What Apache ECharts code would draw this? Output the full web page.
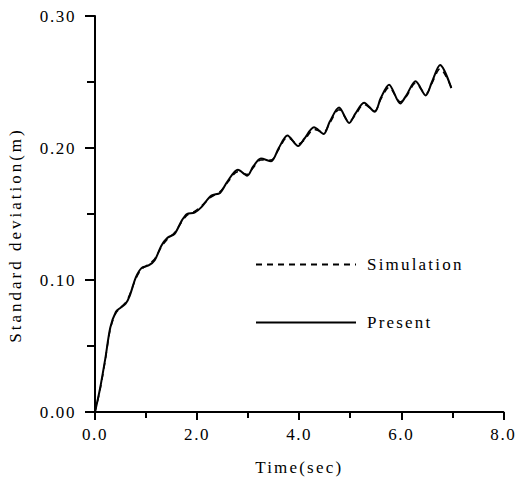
<!DOCTYPE html>
<html>
<head>
<meta charset="utf-8">
<script src="https://cdn.jsdelivr.net/npm/echarts@6/dist/echarts.min.js"></script>
<style>
  html, body { margin: 0; padding: 0; background: #fff; }
  #main { width: 517px; height: 481px; }
  /* the scanned figure has wide letter spacing */
  #main text { letter-spacing: 1.6px; }
  #main text.wide { letter-spacing: 2.2px; }
  #main text.ytitle { letter-spacing: 3px; }
</style>
</head>
<body>
<div id="main"></div>
<script>
    // time (sec) sampled along the curves
    var time = [0, 0.1, 0.2, 0.3, 0.41, 0.5, 0.6, 0.68, 0.8, 0.91, 1.05, 1.17, 1.3, 1.42, 1.56, 1.7, 1.8, 1.95,
        2.08, 2.28, 2.45, 2.6, 2.8, 2.98, 3.1, 3.25, 3.45, 3.6, 3.77, 3.98, 4.1, 4.29, 4.48, 4.6, 4.78, 4.98,
        5.1, 5.27, 5.48, 5.6, 5.76, 5.98, 6.1, 6.28, 6.48, 6.6, 6.76, 6.98];

    // standard deviation (m)
    var present = [0, 0.018, 0.040, 0.064, 0.076, 0.079, 0.082, 0.088, 0.102, 0.109, 0.111, 0.115, 0.126, 0.132,
        0.135, 0.145, 0.150, 0.151, 0.155, 0.164, 0.166, 0.175, 0.1835, 0.179, 0.186, 0.192, 0.190, 0.200, 0.2095,
        0.2015, 0.207, 0.2157, 0.2107, 0.220, 0.2306, 0.219, 0.226, 0.2343, 0.2275, 0.238, 0.248, 0.2338, 0.240,
        0.2505, 0.2398, 0.250, 0.2628, 0.2454];

    var simulation = [0, 0.017, 0.039, 0.063, 0.075, 0.079, 0.083, 0.089, 0.101, 0.108, 0.112, 0.116, 0.125, 0.131,
        0.136, 0.144, 0.149, 0.152, 0.156, 0.163, 0.167, 0.174, 0.182, 0.180, 0.185, 0.191, 0.191, 0.199, 0.208,
        0.203, 0.206, 0.214, 0.212, 0.219, 0.229, 0.220, 0.225, 0.233, 0.228, 0.237, 0.246, 0.235, 0.239,
        0.249, 0.241, 0.249, 0.260, 0.246];

    var seriesNames = ['Simulation', 'Present'];

    function pairs(xs, ys) {
        var out = [];
        for (var i = 0; i < xs.length; i++) out.push([xs[i], ys[i]]);
        return out;
    }

    var font = '"Liberation Serif", "Times New Roman", serif';
    var chart = echarts.init(document.getElementById('main'), null, { renderer: 'svg' });

    var option = {
        animation: false,
        backgroundColor: '#fff',
        textStyle: { fontFamily: font, color: '#000' },
        grid: { left: 95, right: 12, top: 16, bottom: 62 },
        legend: {
            data: seriesNames,
            orient: 'vertical',
            left: 250,
            top: 251,
            itemWidth: 100,
            itemHeight: 14,
            itemGap: 41,
            itemStyle: { opacity: 0 },
            textStyle: { fontFamily: font, fontSize: 17, color: '#000', padding: [0, 0, 0, 6] }
        },
        xAxis: {
            type: 'value',
            min: 0, max: 8, interval: 2,
            name: 'Time(sec)',
            nameLocation: 'middle',
            nameGap: 47,
            nameTextStyle: { fontFamily: font, fontSize: 17, color: '#000' },
            axisLine: { lineStyle: { color: '#000', width: 2 } },
            axisTick: { show: true, inside: false, length: 8, lineStyle: { color: '#000', width: 2 } },
            minorTick: { show: true, splitNumber: 2, length: 6, lineStyle: { color: '#000', width: 2 } },
            splitLine: { show: false },
            axisLabel: {
                margin: 14, fontSize: 17, color: '#000', fontFamily: font,
                formatter: function (v) { return v.toFixed(1); }
            }
        },
        yAxis: {
            type: 'value',
            min: 0, max: 0.3, interval: 0.1,
            axisLine: { show: true, lineStyle: { color: '#000', width: 2 } },
            axisTick: { show: true, inside: false, length: 10, lineStyle: { color: '#000', width: 2 } },
            minorTick: { show: true, splitNumber: 2, length: 8, lineStyle: { color: '#000', width: 2 } },
            splitLine: { show: false },
            axisLabel: {
                margin: 19, fontSize: 17, color: '#000', fontFamily: font,
                formatter: function (v) { return v.toFixed(2); }
            }
        },
        graphic: [{
            type: 'text',
            x: 15,
            y: 235,
            rotation: Math.PI / 2,
            style: {
                text: 'Standard deviation(m)',
                fontFamily: font,
                fontSize: 17,
                fill: '#000',
                align: 'center',
                verticalAlign: 'middle'
            }
        }],
        series: [
            {
                name: 'Simulation',
                type: 'line',
                data: pairs(time, simulation),
                showSymbol: false,
                symbol: 'none',
                smooth: 0.3,
                lineStyle: { color: '#000', width: 1.5, type: [6, 5] },
                itemStyle: { color: '#000' }
            },
            {
                name: 'Present',
                type: 'line',
                data: pairs(time, present),
                showSymbol: false,
                symbol: 'none',
                smooth: 0.3,
                lineStyle: { color: '#000', width: 2 },
                itemStyle: { color: '#000' }
            }
        ]
    };

    chart.setOption(option);

    // give the titles and legend text their own spacing
    var texts = document.querySelectorAll('#main text');
    for (var i = 0; i < texts.length; i++) {
        var t = texts[i].textContent;
        if (t === 'Standard deviation(m)') texts[i].setAttribute('class', 'ytitle');
        else if (t === 'Time(sec)' || t === 'Simulation' || t === 'Present') texts[i].setAttribute('class', 'wide');
    }
</script>
</body>
</html>
